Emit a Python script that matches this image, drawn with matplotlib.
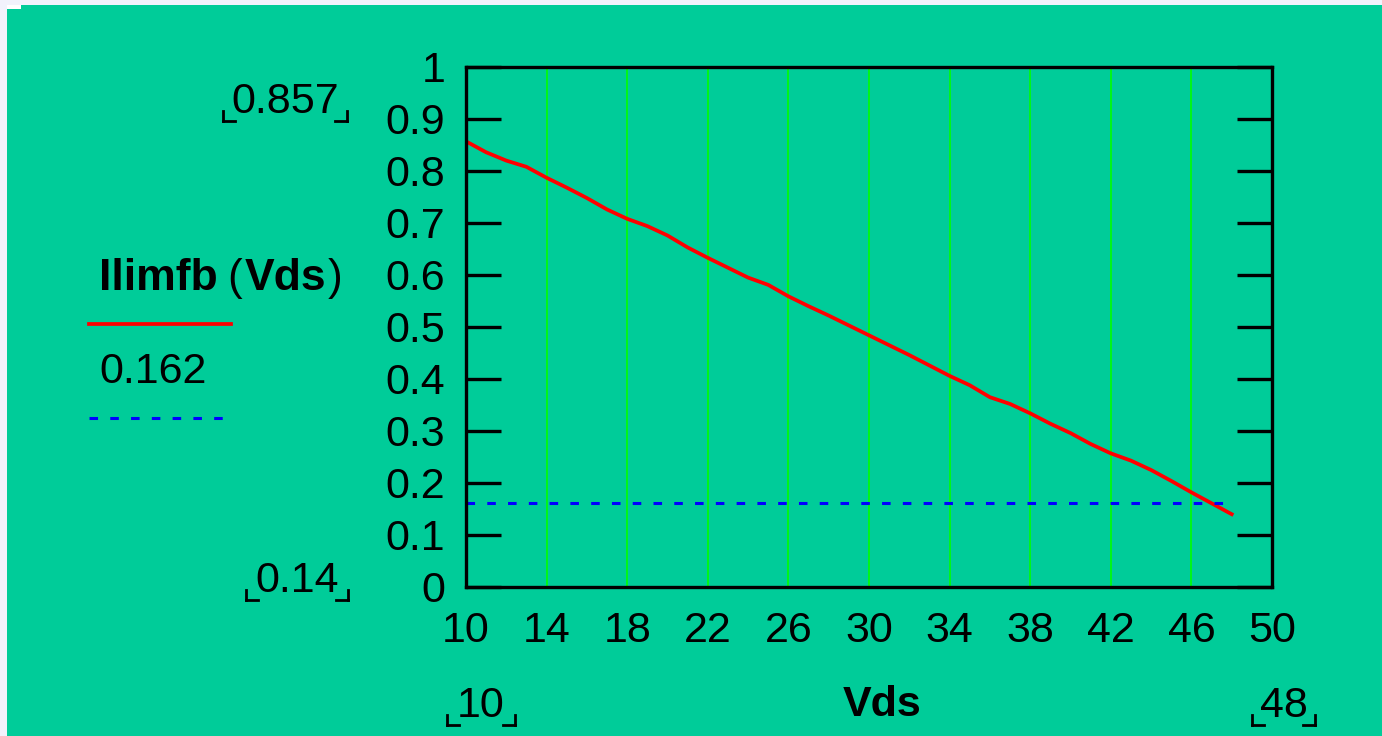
import matplotlib.pyplot as plt
from matplotlib.lines import Line2D
from matplotlib.patches import Rectangle

# Ilimfb(Vds) curve, one point per volt
vds = list(range(10, 49))
ilimfb = [0.857, 0.836, 0.820, 0.808, 0.787, 0.768, 0.748, 0.726, 0.708, 0.694,
          0.676, 0.653, 0.633, 0.614, 0.595, 0.581, 0.559, 0.540, 0.522, 0.503,
          0.484, 0.465, 0.446, 0.426, 0.406, 0.388, 0.365, 0.352, 0.334, 0.314,
          0.296, 0.275, 0.257, 0.243, 0.225, 0.204, 0.182, 0.161, 0.140]
limit_val = 0.162
x_ticks = list(range(10, 51, 4))
y_ticks = [0, 0.1, 0.2, 0.3, 0.4, 0.5, 0.6, 0.7, 0.8, 0.9, 1]
y_labels = ['0', '0.1', '0.2', '0.3', '0.4', '0.5', '0.6', '0.7', '0.8', '0.9', '1']

W, H = 1382, 736
bg = '#00CC99'
fs = 31
plt.rcParams['font.family'] = ['Liberation Sans', 'DejaVu Sans']

fig = plt.figure(figsize=(W / 100, H / 100), dpi=100, facecolor='#F2F2FC')
fig.patches.append(Rectangle((7 / W, 0), 1 - 7 / W, 1 - 5 / H, transform=fig.transFigure,
                             facecolor=bg, edgecolor='none', zorder=-10))
fig.patches.append(Rectangle((7 / W, 1 - 9 / H), 14 / W, 4 / H, transform=fig.transFigure,
                             facecolor='white', edgecolor='none', zorder=-9))

ax = fig.add_axes([466 / W, 1 - 587 / H, (1272 - 466) / W, (587 - 67) / H])
ax.set_facecolor(bg)

ax.plot(vds, ilimfb, color='red', lw=2.7, zorder=3)
ax.plot([vds[0], vds[-1]], [limit_val, limit_val], color='blue', lw=2.2,
        dashes=(2.8, 4), zorder=3)

ax.set_xlim(10, 50)
ax.set_ylim(0, 1)
ax.set_xticks(x_ticks)
ax.set_yticks(y_ticks)
ax.set_yticklabels(y_labels)
ax.grid(axis='x', color='#00FF00', lw=1.2)
ax.tick_params(axis='x', length=0, pad=17, labelsize=fs)
ax.tick_params(axis='y', direction='in', length=25, width=2.4, right=True,
               pad=15, labelsize=fs)
for s in ax.spines.values():
    s.set_linewidth(2.4)
    s.set_zorder(4)


def px(x, y):
    return x / W, 1 - y / H


def bracket_label(txt, x0, x1, y, weight='normal'):
    # Mathcad style limit markers: small corners on each side of the text
    fig.text(*px((x0 + x1) / 2, y), txt, ha='center', va='center', fontsize=fs,
             fontweight=weight)
    yb = y + 19
    for xa in (x0 - 10, x1 + 10):
        fig.lines.append(Line2D([xa / W, xa / W], [1 - (yb - 10) / H, 1 - yb / H],
                                transform=fig.transFigure, color='black', lw=2))
    fig.lines.append(Line2D([(x0 - 10) / W, (x0 + 2) / W], [1 - yb / H, 1 - yb / H],
                            transform=fig.transFigure, color='black', lw=2))
    fig.lines.append(Line2D([(x1 - 2) / W, (x1 + 10) / W], [1 - yb / H, 1 - yb / H],
                            transform=fig.transFigure, color='black', lw=2))


bracket_label('0.857', 233, 337, 102)
bracket_label('0.14', 256, 338, 581)
bracket_label('10', 457, 505, 706)
bracket_label('48', 1262, 1305, 706)
fig.text(*px(882, 705), 'Vds', ha='center', va='center', fontsize=fs, fontweight='bold')

# legend block at left
renderer = fig.canvas.get_renderer()
xcur = 99
for piece, wt, gap in [('Ilimfb', 'bold', 10), ('(', 'normal', 2), ('Vds', 'bold', 2),
                       (')', 'normal', 0)]:
    t = fig.text(*px(xcur, 278), piece, ha='left', va='center', fontsize=fs + 1,
                 fontweight=wt)
    xcur += t.get_window_extent(renderer).width + gap
fig.lines.append(Line2D([89 / W, 231 / W], [1 - 324 / H, 1 - 324 / H],
                        transform=fig.transFigure, color='red', lw=2.7))
fig.text(*px(99, 372), '0.162', ha='left', va='center', fontsize=fs)
fig.lines.append(Line2D([89 / W, 226 / W], [1 - 418 / H, 1 - 418 / H],
                        transform=fig.transFigure, color='blue', lw=2.2, dashes=(2.8, 4)))

fig.savefig('out.png', dpi=100, facecolor=fig.get_facecolor())
